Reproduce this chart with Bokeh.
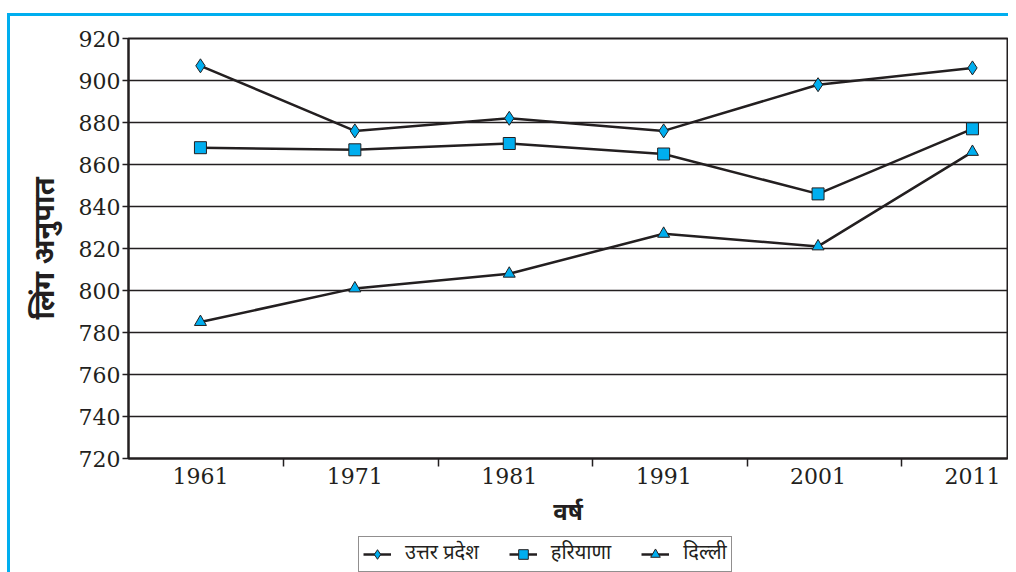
from bokeh.plotting import figure
from bokeh.models import Range1d, FixedTicker, Legend, LegendItem
from bokeh.layouts import column
from bokeh.embed import file_html
from bokeh.resources import INLINE

years = [1961, 1971, 1981, 1991, 2001, 2011]
up = [907, 876, 882, 876, 898, 906]
haryana = [868, 867, 870, 865, 846, 877]
delhi = [785, 801, 808, 827, 821, 866]
y_ticks = list(range(720, 921, 20))
series_names = ["उत्तर प्रदेश", "हरियाणा", "दिल्ली"]
x_title = "वर्ष"
y_title = "लिंग अनुपात"

DEV = "Noto Sans Devanagari, Noto Sans, sans-serif"
SERIF = "DejaVu Serif"
INK = "#231f20"
FILL = "#00aeef"

p = figure(width=1008, height=532, output_backend="svg", toolbar_location=None,
           x_range=Range1d(1956.34, 2013.27), y_range=Range1d(720, 920),
           min_border_left=128, min_border_right=1, min_border_top=38,
           min_border_bottom=74)
p.border_fill_alpha = 0
p.background_fill_color = "white"
p.outline_line_color = INK
p.outline_line_width = 2

# axes
p.yaxis.ticker = FixedTicker(ticks=y_ticks)
p.yaxis.major_label_text_font = SERIF
p.yaxis.major_label_text_font_size = "22px"
p.yaxis.major_label_text_color = INK
p.yaxis.major_tick_out = 6
p.yaxis.major_tick_in = 0
p.yaxis.major_tick_line_color = INK
p.yaxis.major_tick_line_width = 1.5
p.yaxis.minor_tick_line_color = None
p.yaxis.axis_line_color = INK
p.yaxis.axis_line_width = 2
p.yaxis.major_label_standoff = 2
p.yaxis.axis_label = y_title
p.yaxis.axis_label_text_font = DEV
p.yaxis.axis_label_text_font_size = "29px"
p.yaxis.axis_label_text_font_style = "bold"
p.yaxis.axis_label_text_color = INK
p.yaxis.axis_label_standoff = 10

seps = [(a + b) / 2 + 0.4 for a, b in zip(years[:-1], years[1:])]
p.xaxis.ticker = FixedTicker(ticks=years, minor_ticks=seps)
p.xaxis.major_label_text_font = SERIF
p.xaxis.major_label_text_font_size = "22px"
p.xaxis.major_label_text_color = INK
p.xaxis.major_tick_line_color = None
p.xaxis.major_tick_out = 0
p.xaxis.minor_tick_out = 8
p.xaxis.minor_tick_in = 0
p.xaxis.minor_tick_line_color = INK
p.xaxis.minor_tick_line_width = 1.5
p.xaxis.axis_line_color = INK
p.xaxis.axis_line_width = 2
p.xaxis.major_label_standoff = 1
p.xaxis.axis_label = x_title
p.xaxis.axis_label_text_font = DEV
p.xaxis.axis_label_text_font_size = "24px"
p.xaxis.axis_label_text_font_style = "bold"
p.xaxis.axis_label_text_color = INK
p.xaxis.axis_label_standoff = 11

p.xgrid.grid_line_color = None
p.ygrid.ticker = FixedTicker(ticks=y_ticks)
p.ygrid.grid_line_color = INK
p.ygrid.grid_line_width = 1.5

# legend strip: same series drawn again (outside its view) only to feed the legend
p2 = figure(width=1008, height=40, output_backend="svg", toolbar_location=None,
            x_range=Range1d(0, 1), y_range=Range1d(0, 1),
            x_axis_location=None, y_axis_location=None, min_border=0)
p2.grid.visible = False
p2.outline_line_color = None
p2.border_fill_alpha = 0
p2.background_fill_alpha = 0

specs = [(up, series_names[0], "diamond", 14),
         (haryana, series_names[1], "square", 12),
         (delhi, series_names[2], "triangle", 12)]
items = []
for vals, name, marker, size in specs:
    p.line(years, vals, line_color=INK, line_width=2.5)
    p.scatter(years, vals, marker=marker, size=size, fill_color=FILL,
              line_color=INK, line_width=1)
    l2 = p2.line(years, vals, line_color=INK, line_width=2.5)
    s2 = p2.scatter(years, vals, marker=marker, size=size, fill_color=FILL,
                    line_color=INK, line_width=1)
    items.append(LegendItem(label=name, renderers=[l2, s2]))

legend = Legend(items=items, orientation="horizontal", location=(230, 0),
                label_text_font=DEV, label_text_font_size="20px",
                label_text_color=INK, border_line_color=INK, border_line_width=1.5,
                glyph_width=28, glyph_height=24, label_standoff=14, spacing=30,
                padding=4, margin=0, label_height=20,
                background_fill_color="white", background_fill_alpha=1)
p2.add_layout(legend, "center")

layout = column(p, p2, spacing=0)
layout.styles = {"background": "linear-gradient(#00aeef,#00aeef) 8px 13px / 100% 3px no-repeat, "
                               "linear-gradient(#00aeef,#00aeef) 7px 13px / 3px 100% no-repeat"}

open("out.html", "w").write(file_html(layout, INLINE))
